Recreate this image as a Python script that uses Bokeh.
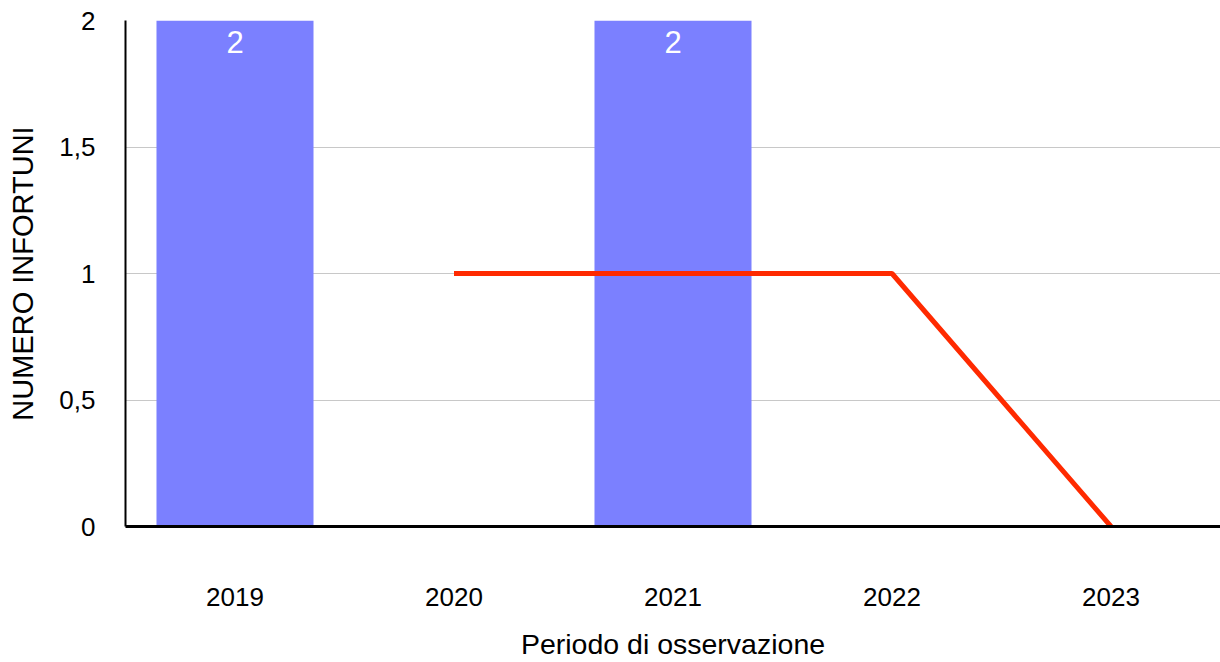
from bokeh.plotting import figure
from bokeh.models import ColumnDataSource, FixedTicker, Range1d, LabelSet, FactorRange
from bokeh.core.properties import value
from bokeh.embed import file_html
from bokeh.resources import INLINE
import numpy as np

years = ["2019", "2020", "2021", "2022", "2023"]
infortuni = [2, 0, 2, 0, 0]
trend = [np.nan, 1, 1, 1, 0]
y_ticks = [0, 0.5, 1, 1.5, 2]
y_tick_labels = ["0", "0,5", "1", "1,5", "2"]

FONT = "Liberation Sans"

p = figure(x_range=FactorRange(*years, range_padding=0), y_range=Range1d(0, 2),
           width=1220, height=662, output_backend="svg", toolbar_location=None,
           min_border_left=125, min_border_top=20, min_border_bottom=136, min_border_right=0)
p.outline_line_color = None
p.background_fill_color = "white"

bar_src = ColumnDataSource(dict(x=years, top=infortuni))
p.vbar(x="x", top="top", width=0.717, source=bar_src, fill_color="#7B80FF", line_color=None)

line_src = ColumnDataSource(dict(x=years, y=trend))
p.line(x="x", y="y", source=line_src, line_color="#FF2A00", line_width=5)

lab_src = ColumnDataSource(dict(x=[x for x, v in zip(years, infortuni) if v > 0],
                                y=[v for v in infortuni if v > 0],
                                t=[str(v) for v in infortuni if v > 0]))
p.add_layout(LabelSet(x="x", y="y", text="t", source=lab_src, text_color="white",
                      text_font=value(FONT), text_font_size="31px", text_align="center",
                      text_baseline="top", y_offset=-10))

p.xgrid.grid_line_color = None
p.ygrid.grid_line_color = "#C8C8C8"
p.ygrid.grid_line_width = 1
p.ygrid.ticker = FixedTicker(ticks=y_ticks)

p.yaxis.ticker = FixedTicker(ticks=y_ticks)
p.yaxis.major_label_overrides = {t: l for t, l in zip(y_ticks, y_tick_labels)}
p.yaxis.axis_line_color = "black"
p.yaxis.axis_line_width = 2
p.yaxis.major_tick_line_color = None
p.yaxis.minor_tick_line_color = None
p.yaxis.major_tick_out = 0
p.yaxis.major_tick_in = 0
p.yaxis.major_label_standoff = 30
p.yaxis.major_label_text_font = FONT
p.yaxis.major_label_text_font_size = "26px"
p.yaxis.major_label_text_color = "black"
p.yaxis.axis_label = "NUMERO INFORTUNI"
p.yaxis.axis_label_text_font = FONT
p.yaxis.axis_label_text_font_size = "29px"
p.yaxis.axis_label_text_font_style = "normal"
p.yaxis.axis_label_text_color = "black"
p.yaxis.axis_label_standoff = 17

p.xaxis.axis_line_color = "black"
p.xaxis.axis_line_width = 3
p.xaxis.major_tick_line_color = None
p.xaxis.minor_tick_line_color = None
p.xaxis.major_tick_out = 0
p.xaxis.major_tick_in = 0
p.xaxis.major_label_standoff = 61
p.xaxis.major_label_text_font = FONT
p.xaxis.major_label_text_font_size = "26px"
p.xaxis.major_label_text_color = "black"
p.xaxis.axis_label = "Periodo di osservazione"
p.xaxis.axis_label_text_font = FONT
p.xaxis.axis_label_text_font_size = "28.5px"
p.xaxis.axis_label_text_font_style = "normal"
p.xaxis.axis_label_text_color = "black"
p.xaxis.axis_label_standoff = 19

open("out.html", "w").write(file_html(p, INLINE))
